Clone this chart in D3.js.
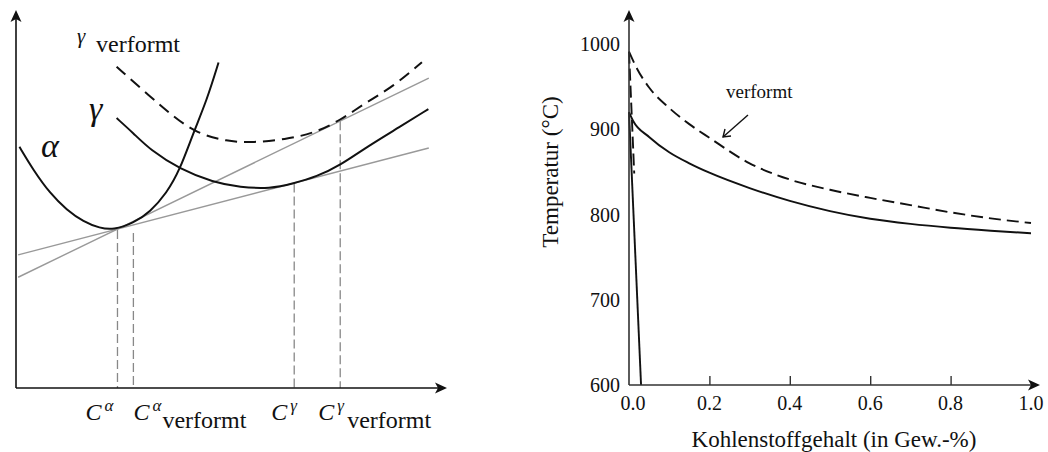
<!DOCTYPE html>
<html><head><meta charset="utf-8">
<script src="https://cdn.jsdelivr.net/npm/d3@7"></script>
<style>
body{margin:0;background:#fff}
svg{display:block}
text{font-family:"Liberation Serif","Times New Roman",serif;fill:#111}
</style>
</head><body>
<svg id="c" width="1048" height="452"></svg>
<script>
// ---------- Left panel: schematic free-energy curves (arbitrary units 0–100) ----------
const alphaX = [0.8, 4.0, 7.9, 11.8, 15.7, 19.5, 22.6, 27.3, 31.2, 35.0, 38.1, 41.2, 44.4, 47.1];
const alphaY = [63.8, 57.7, 51.5, 47.1, 44.0, 42.3, 41.8, 43.6, 46.6, 51.5, 57.7, 67.4, 76.2, 86.1];
const gammaX = [23.4, 27.3, 31.2, 38.1, 45.9, 52.1, 59.1, 64.5, 69.9, 75.4, 81.6, 89.3, 95.9];
const gammaY = [71.4, 67.4, 63.0, 57.9, 54.4, 53.1, 52.7, 54.1, 55.9, 58.9, 63.8, 69.1, 73.8];
const gammaDefX = [23.4, 31.2, 36.6, 42.0, 49.0, 55.2, 62.6, 69.1, 75.4, 81.6, 87.7, 94.4];
const gammaDefY = [85.0, 77.1, 71.8, 67.4, 65.2, 64.9, 65.8, 67.3, 70.8, 75.7, 79.7, 86.2];
const tangentLowX = [0.5, 96.0],  tangentLowY = [35.2, 63.5];
const tangentHighX = [0.5, 96.0], tangentHighY = [29.3, 82.0];
const compNames = ["α", "α", "γ", "γ"];
const compDeformed = [false, true, false, true];
const compX = [23.6, 27.3, 64.7, 75.4];
const compTop = [41.8, 41.0, 54.1, 70.6];

// ---------- Right panel: temperature vs. carbon content ----------
const carbonTicks = [0.0, 0.2, 0.4, 0.6, 0.8, 1.0];
const tempTicks = [600, 700, 800, 900, 1000];
const a3X = [0, 0.01, 0.05, 0.1, 0.15, 0.2, 0.3, 0.4, 0.5, 0.6, 0.7, 0.8, 0.9, 1.0];
const a3Y = [920, 910, 891, 873, 860, 849, 831, 816, 804, 795, 789, 784.5, 781, 778];
const a3DefX = [0, 0.02, 0.05, 0.1, 0.15, 0.2, 0.3, 0.4, 0.5, 0.6, 0.7, 0.8, 0.9, 1.0];
const a3DefY = [991, 971, 949, 925, 906, 890, 860, 841, 829, 819.5, 811, 802.5, 795.5, 790];
const a1X = [0, 0.03],     a1Y = [920, 600];
const a1DefX = [0, 0.013], a1DefY = [991, 848];

const svg = d3.select("#c");
const zip = (xs, ys) => xs.map((x, i) => [x, ys[i]]);

function arrowHead(g, x, y, dir) {
  const p = dir === "up"
    ? `M${x},${y} L${x-5.5},${y+12} L${x},${y+9} L${x+5.5},${y+12} Z`
    : `M${x},${y} L${x-12},${y-5.5} L${x-9},${y} L${x-12},${y+5.5} Z`;
  g.append("path").attr("d", p).attr("fill", "#111");
}

// ===== Left panel =====
const xL = d3.scaleLinear().domain([0, 100]).range([16, 446]);
const yL = d3.scaleLinear().domain([0, 100]).range([388, 10]);
const L = svg.append("g");
const lineL = d3.line().x(d => xL(d[0])).y(d => yL(d[1])).curve(d3.curveBasis);

[[tangentLowX, tangentLowY], [tangentHighX, tangentHighY]].forEach(([xs, ys]) => {
  L.append("path").attr("d", d3.line().x(d => xL(d[0])).y(d => yL(d[1]))(zip(xs, ys)))
    .attr("fill", "none").attr("stroke", "#999").attr("stroke-width", 1.4);
});
compX.forEach((c, i) => {
  L.append("line").attr("x1", xL(c)).attr("x2", xL(c)).attr("y1", yL(compTop[i])).attr("y2", yL(0))
    .attr("stroke", "#888").attr("stroke-width", 1.3).attr("stroke-dasharray", "9,4");
});
L.append("path").attr("d", lineL(zip(alphaX, alphaY))).attr("fill", "none").attr("stroke", "#111").attr("stroke-width", 2);
L.append("path").attr("d", lineL(zip(gammaX, gammaY))).attr("fill", "none").attr("stroke", "#111").attr("stroke-width", 2);
L.append("path").attr("d", lineL(zip(gammaDefX, gammaDefY))).attr("fill", "none").attr("stroke", "#111")
  .attr("stroke-width", 2).attr("stroke-dasharray", "12,7");

L.append("line").attr("x1", xL(0)).attr("x2", xL(0)).attr("y1", yL(0)).attr("y2", yL(100)+2).attr("stroke", "#111").attr("stroke-width", 1.6);
L.append("line").attr("x1", xL(0)).attr("x2", 445).attr("y1", yL(0)).attr("y2", yL(0)).attr("stroke", "#111").attr("stroke-width", 1.6);
arrowHead(L, xL(0), yL(100), "up");
arrowHead(L, 447, yL(0), "right");

L.append("text").attr("x", 41).attr("y", 157).attr("font-style", "italic").attr("font-size", 34).text("α");
L.append("text").attr("x", 89).attr("y", 120).attr("font-style", "italic").attr("font-size", 34).text("γ");
L.append("text").attr("x", 77).attr("y", 43).attr("font-style", "italic").attr("font-size", 21).text("γ");
L.append("text").attr("x", 96).attr("y", 52).attr("font-size", 24).text("verformt");

const labelDx = [-32, 0, -23, -22];
compX.forEach((c, i) => {
  const x0 = xL(c) + labelDx[i];
  L.append("text").attr("x", x0).attr("y", 420).attr("font-style", "italic").attr("font-size", 24).text("C");
  L.append("text").attr("x", x0 + 19).attr("y", 411).attr("font-style", "italic").attr("font-size", 17).text(compNames[i]);
  if (compDeformed[i]) L.append("text").attr("x", x0 + 29).attr("y", 428).attr("font-size", 24).text("verformt");
});

// ===== Right panel =====
const xR = d3.scaleLinear().domain([0, 1]).range([629, 1031]);
const yR = d3.scaleLinear().domain([600, 1000]).range([385, 44]);
const R = svg.append("g");
const lineR = d3.line().x(d => xR(d[0])).y(d => yR(d[1])).curve(d3.curveMonotoneX);
const straight = d3.line().x(d => xR(d[0])).y(d => yR(d[1]));

R.append("path").attr("d", lineR(zip(a3X, a3Y))).attr("fill", "none").attr("stroke", "#111").attr("stroke-width", 1.9);
R.append("path").attr("d", lineR(zip(a3DefX, a3DefY))).attr("fill", "none").attr("stroke", "#111")
  .attr("stroke-width", 1.9).attr("stroke-dasharray", "12,6");
R.append("path").attr("d", straight(zip(a1X, a1Y))).attr("fill", "none").attr("stroke", "#111").attr("stroke-width", 1.9);
R.append("path").attr("d", straight(zip(a1DefX, a1DefY))).attr("fill", "none").attr("stroke", "#111")
  .attr("stroke-width", 1.9).attr("stroke-dasharray", "12,5");

R.append("line").attr("x1", xR(0)).attr("x2", xR(0)).attr("y1", yR(600)).attr("y2", 12).attr("stroke", "#333").attr("stroke-width", 1.6);
R.append("line").attr("x1", xR(0)).attr("x2", 1038).attr("y1", yR(600)).attr("y2", yR(600)).attr("stroke", "#333").attr("stroke-width", 1.6);
arrowHead(R, xR(0), 10, "up");
arrowHead(R, 1040, yR(600), "right");

const xAxisR = d3.axisBottom(xR).tickValues(carbonTicks.filter(t => t > 0 && t < 1)).tickSize(-9).tickFormat("");
R.append("g").attr("transform", `translate(0,${yR(600)})`).call(xAxisR)
  .call(g => g.select(".domain").remove())
  .call(g => g.selectAll(".tick line").attr("stroke", "#333").attr("stroke-width", 1.4));

R.selectAll(".xl").data(carbonTicks).enter().append("text")
  .attr("x", d => xR(d) + (d === 0 ? 4 : 0)).attr("y", 410).attr("text-anchor", "middle").attr("font-size", 20)
  .text(d => d3.format(".1f")(d));
R.selectAll(".yl").data(tempTicks).enter().append("text")
  .attr("x", 620).attr("y", d => yR(d)).attr("dy", "0.35em").attr("text-anchor", "end").attr("font-size", 20)
  .text(d => d);

R.append("text").attr("transform", "translate(558,172) rotate(-90)").attr("text-anchor", "middle").attr("font-size", 23).text("Temperatur (°C)");
R.append("text").attr("x", 834).attr("y", 447).attr("text-anchor", "middle").attr("font-size", 23).text("Kohlenstoffgehalt (in Gew.-%)");

R.append("text").attr("x", 726).attr("y", 98).attr("font-size", 19).text("verformt");
R.append("line").attr("x1", 748).attr("y1", 115).attr("x2", 723).attr("y2", 137).attr("stroke", "#111").attr("stroke-width", 1.4);
R.append("path").attr("d", "M731,136 L723,137 L725,129").attr("fill", "none").attr("stroke", "#111").attr("stroke-width", 1.4);
</script>
</body></html>
